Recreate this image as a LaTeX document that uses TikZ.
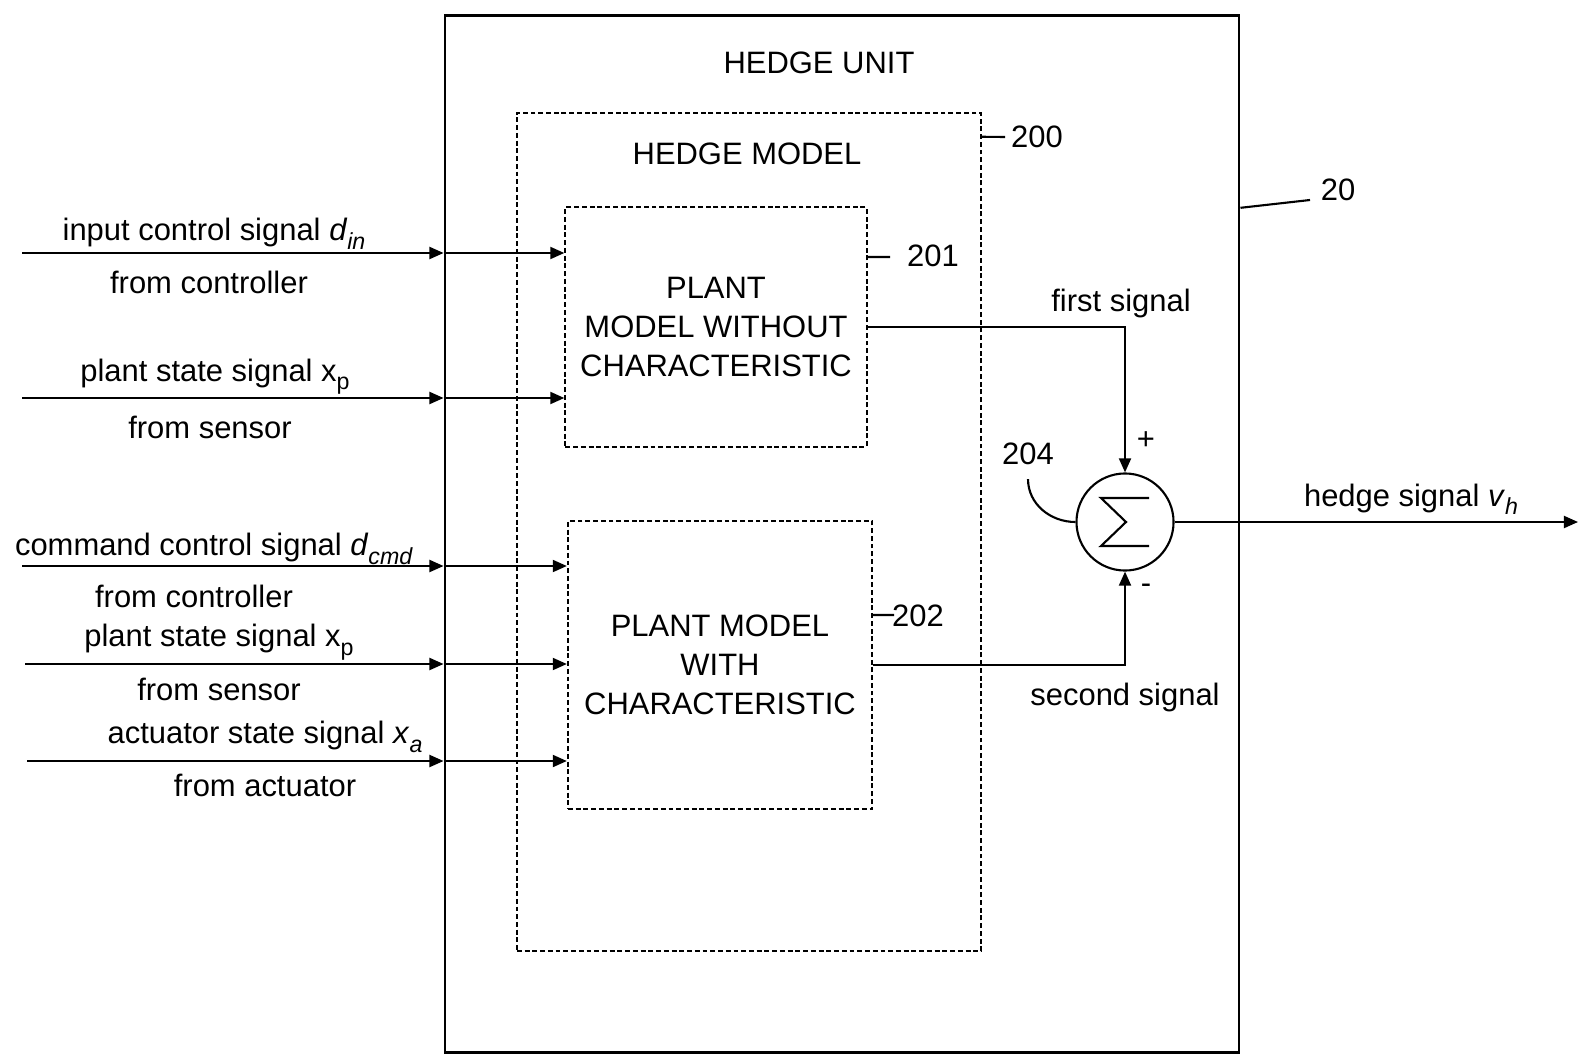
\documentclass[tikz,border=0pt]{standalone}
\usepackage{fontspec}
\setmainfont{Liberation Sans}
\usepackage{tikz}
\usetikzlibrary{arrows.meta, positioning}
\newcommand{\lowsub}[1]{\raisebox{-0.55ex}{\fontsize{6.6}{7}\selectfont #1}}
\tikzstyle{unitbox} = [rectangle, 
draw=black, 
line width=0.7pt, 
minimum width=7.94cm, 
minimum height=10.36cm]
\tikzstyle{dashbox} = [rectangle, 
draw=black, 
line width=0.6pt, 
dash pattern=on 1.4pt off 0.8pt]
\tikzstyle{process} = [dashbox, 
align=center, 
inner sep=0pt]
\tikzstyle{summer} = [circle, 
draw=black, 
line width=0.6pt, 
minimum size=0.97cm, 
inner sep=0pt]
\tikzstyle{txt} = [anchor=base, inner sep=0pt]
\tikzstyle{wire} = [line width=0.6pt]
\tikzstyle{arrow} = [wire, -{Triangle[length=4pt, width=3.4pt]}]

\begin{document}
\begin{tikzpicture}[x=0.01cm, y=-0.01cm, font=\fontsize{8.8}{11}\selectfont]
        \useasboundingbox (0,0) rectangle (1586,1055);

        \node (unit) [unitbox] at (842,534) {};
        \node (hedge_model) [dashbox, minimum width=4.64cm, minimum height=8.38cm] at (749,532) {};
        \node (pm_wo) [process, minimum width=3.01cm, minimum height=2.39cm] at (716,327) {PLANT\\MODEL WITHOUT\\CHARACTERISTIC};
        \node (pm_w) [process, minimum width=3.04cm, minimum height=2.88cm] at (720,665) {PLANT MODEL\\WITH\\CHARACTERISTIC};
        \node (sum) [summer] at (1125,522) {};
        \draw [wire, line join=miter] ([shift={(24,-24)}]sum.center) -- ++(-48,0) -- ++(25,24) -- ++(-25,24) -- ++(48,0);

        \node (unit_title) [txt] at (819,74) {HEDGE UNIT};
        \node (model_title) [txt] at (747,165) {HEDGE MODEL};

        % reference numerals
        \node (ref_20) [txt] at (1338,201) {20};
        \node (ref_200) [txt] at (1037,148) {200};
        \node (ref_201) [txt] at (933,267) {201};
        \node (ref_202) [txt] at (918,626) {202};
        \node (ref_204) [txt] at (1028,464) {204};
        \coordinate (tag_20) at (1310,200);
        \coordinate (tag_200) at (1005,137);
        \coordinate (tag_201) at (890,257);
        \coordinate (tag_202) at (894,615);
        \draw [wire] ([yshift=3.26cm]unit.east) -- (tag_20);
        \draw [wire] ([yshift=3.95cm]hedge_model.east) -- (tag_200);
        \draw [wire] ([yshift=0.70cm]pm_wo.east) -- (tag_201);
        \draw [wire] ([yshift=0.50cm]pm_w.east) -- (tag_202);
        \draw [wire] ([yshift=-4pt]ref_204.south) to[out=-90, in=180] (sum.west);

        % inputs
        \foreach \src/\y/\x/\dst in {in_1/253/22/pm_wo, in_2/398/22/pm_wo, in_3/566/22/pm_w, in_4/664/25/pm_w, in_5/761/27/pm_w} {
            \coordinate (\src) at (\x,\y);
            \draw [arrow] (\src) -- (\src -| unit.west);
            \draw [arrow] (\src -| unit.west) -- (\src -| \dst.west);
        }
        \node (in_1_top) [txt] at (214,241) {input control signal \textit{d}\lowsub{\textit{in}}};
        \node (in_1_bot) [txt] at (209,294) {from controller};
        \node (in_2_top) [txt] at (215,381) {plant state signal x\lowsub{p}};
        \node (in_2_bot) [txt] at (210,438) {from sensor};
        \node (in_3_top) [txt] at (214,555) {command control signal \textit{d}\lowsub{\textit{cmd}}};
        \node (in_3_bot) [txt] at (194,607) {from controller};
        \node (in_4_top) [txt] at (219,646) {plant state signal x\lowsub{p}};
        \node (in_4_bot) [txt] at (219,700) {from sensor};
        \node (in_5_top) [txt] at (265,743) {actuator state signal \textit{x}\lowsub{\textit{a}}};
        \node (in_5_bot) [txt] at (265,796) {from actuator};

        % sum junction
        \node (first_lbl) [txt] at (1121,311) {first signal};
        \node (second_lbl) [txt] at (1125,705) {second signal};
        \node (plus) at (1146,441) {+};
        \node (minus) at (1146,589) {-};
        \draw [arrow] (pm_wo.east) -| (sum.north);
        \draw [arrow] (pm_w.east) -| (sum.south);

        \coordinate (hedge_out) at (1578,522);
        \draw [arrow] (sum.east) -- (hedge_out);
        \node (out_lbl) [txt] at (1411,506) {hedge signal \textit{v}\lowsub{\textit{h}}};

    \end{tikzpicture}
\end{document}
